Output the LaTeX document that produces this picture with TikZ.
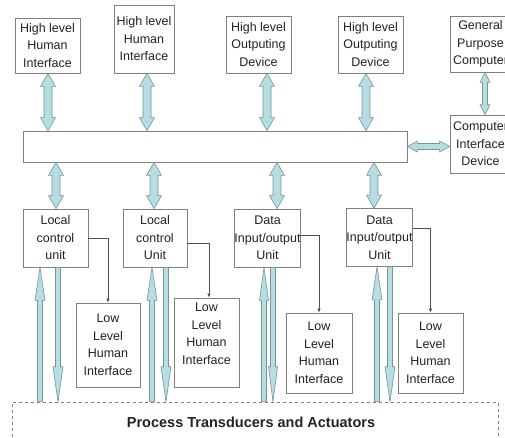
\documentclass[tikz,border=0pt]{standalone}
\usepackage{fontspec}
\setmainfont{Liberation Sans}
\usetikzlibrary{calc,arrows.meta}
\definecolor{boxline}{RGB}{128,128,128}
\definecolor{fatfill}{RGB}{182,221,225}
\definecolor{fatline}{RGB}{118,148,153}
\definecolor{txt}{RGB}{35,35,35}
\tikzset{
  unitbox/.style={draw=boxline, line width=0.8pt, fill=white, align=center, text=txt,
    font=\fontsize{12.5}{17.5}\selectfont, inner sep=0pt},
  fatstyle/.style={draw=fatline, fill=fatfill, line width=0.6pt, line join=miter},
  thinlink/.style={draw=txt!80, line width=0.6pt, -{Latex[length=4pt,width=3.5pt]}},
}
% double-headed fat arrow: A, B, shaft half width, head half width, head length
\newcommand\dblfat[5]{%
  \path (#1) coordinate (fA) (#2) coordinate (fB)
    ($(fA)!#5!(fB)$) coordinate (fA1) ($(fB)!#5!(fA)$) coordinate (fB1);
  \draw[fatstyle] (fA) -- ($(fA1)!#4!90:(fB)$) -- ($(fA1)!#3!90:(fB)$)
    -- ($(fB1)!#3!-90:(fA)$) -- ($(fB1)!#4!-90:(fA)$) -- (fB)
    -- ($(fB1)!#4!90:(fA)$) -- ($(fB1)!#3!90:(fA)$)
    -- ($(fA1)!#3!-90:(fB)$) -- ($(fA1)!#4!-90:(fB)$) -- cycle;}
% single-headed fat arrow: tail A, tip B
\newcommand\sglfat[5]{%
  \path (#1) coordinate (fA) (#2) coordinate (fB) ($(fB)!#5!(fA)$) coordinate (fB1);
  \draw[fatstyle] ($(fA)!#3!90:(fB)$) -- ($(fB1)!#3!-90:(fA)$) -- ($(fB1)!#4!-90:(fA)$)
    -- (fB) -- ($(fB1)!#4!90:(fA)$) -- ($(fB1)!#3!90:(fA)$) -- ($(fA)!#3!-90:(fB)$) -- cycle;}
\begin{document}
\begin{tikzpicture}[x=1pt,y=-1pt]
\useasboundingbox (0,0) rectangle (505,437);
\clip (0,0) rectangle (505,437);
\fill[white] (0,0) rectangle (505,437);
% top row
\node[unitbox, minimum width=65pt, minimum height=55pt] (hh1) at (47.5,45.5) {High level\\Human\\Interface};
\node[unitbox, minimum width=60pt, minimum height=68pt] (hh2) at (144,39) {High level\\Human\\Interface};
\node[unitbox, minimum width=65pt, minimum height=57pt] (ho1) at (258.5,44.5) {High level\\Outputing\\Device};
\node[unitbox, minimum width=65pt, minimum height=57pt] (ho2) at (370.5,44.5) {High level\\Outputing\\Device};
\node[unitbox, minimum width=61pt, minimum height=56pt] (gpc) at (480.5,44) {General\\Purpose\\Computer};
% bus and computer interface
\node[unitbox, minimum width=384pt, minimum height=31pt] (bus) at (215,146.5) {};
\node[unitbox, minimum width=61pt, minimum height=58pt] (cid) at (480.5,144) {Computer\\Interface\\Device};
% local units
\node[unitbox, minimum width=65pt, minimum height=58pt] (lcu1) at (55.5,238) {Local\\control\\unit};
\node[unitbox, minimum width=64pt, minimum height=58pt] (lcu2) at (155,238) {Local\\control\\Unit};
\node[unitbox, minimum width=65pt, minimum height=58pt] (dio1) at (267.5,238) {Data\\Input/output\\Unit};
\node[unitbox, minimum width=65pt, minimum height=58pt] (dio2) at (379.5,237.5) {Data\\Input/output\\Unit};
% low level
\node[unitbox, minimum width=64pt, minimum height=84pt] (ll1) at (108,345) {Low\\Level\\Human\\Interface};
\node[unitbox, minimum width=65pt, minimum height=89pt, text depth=18pt] (ll2) at (206.5,342.5) {Low\\Level\\Human\\Interface};
\node[unitbox, minimum width=66pt, minimum height=80pt] (ll3) at (319,353) {Low\\Level\\Human\\Interface};
\node[unitbox, minimum width=65pt, minimum height=80pt] (ll4) at (430.5,353) {Low\\Level\\Human\\Interface};
% process
\node[draw=boxline, dashed, line width=0.6pt, minimum width=486pt, minimum height=40pt,
  font=\fontsize{14.5}{16}\selectfont\bfseries, text=txt] (proc) at (255,422) {Process Transducers and Actuators\hspace*{8pt}};
% fat arrows top
\dblfat{48,0 |- hh1.south}{48,0 |- bus.north}{4pt}{7.5pt}{13pt}
\dblfat{147,0 |- hh2.south}{147,0 |- bus.north}{4pt}{7.5pt}{13pt}
\dblfat{267,0 |- ho1.south}{267,0 |- bus.north}{4pt}{7.5pt}{13pt}
\dblfat{366,0 |- ho2.south}{366,0 |- bus.north}{4pt}{7.5pt}{13pt}
% bus to local units
\dblfat{56,0 |- bus.south}{56,0 |- lcu1.north}{4pt}{7.5pt}{13pt}
\dblfat{154,0 |- bus.south}{154,0 |- lcu2.north}{4pt}{7.5pt}{13pt}
\dblfat{277,0 |- bus.south}{277,0 |- dio1.north}{4pt}{7.5pt}{13pt}
\dblfat{374,0 |- bus.south}{374,0 |- dio2.north}{4pt}{7.5pt}{13pt}
% computer side
\dblfat{bus.east}{bus.east -| cid.west}{3pt}{5.5pt}{10pt}
\dblfat{485,0 |- gpc.south}{485,0 |- cid.north}{2.5pt}{5pt}{10pt}
% process arrows
\sglfat{40,0 |- proc.north}{40,0 |- lcu1.south}{2.5pt}{5pt}{33pt}
\sglfat{58,0 |- lcu1.south}{58,0 |- proc.north}{2.5pt}{5pt}{35pt}
\sglfat{152,0 |- proc.north}{152,0 |- lcu2.south}{2.5pt}{5pt}{33pt}
\sglfat{166,0 |- lcu2.south}{166,0 |- proc.north}{2.5pt}{5pt}{35pt}
\sglfat{264,0 |- proc.north}{264,0 |- dio1.south}{2.5pt}{4.5pt}{33pt}
\sglfat{273,0 |- dio1.south}{273,0 |- proc.north}{2.5pt}{4.5pt}{35pt}
\sglfat{377,0 |- proc.north}{377,0 |- dio2.south}{2.5pt}{5pt}{33pt}
\sglfat{390,0 |- dio2.south}{390,0 |- proc.north}{2.5pt}{5pt}{35pt}
% thin links
\draw[thinlink] (lcu1.east) -| (ll1.north);
\draw[thinlink] ($(lcu2.east)+(0,5)$) -| ($(ll2.north)+(2.5,0)$);
\draw[thinlink] ($(dio1.east)+(0,-3)$) -| (ll3.north);
\draw[thinlink] ($(dio2.east)+(0,-9.5)$) -| (ll4.north);
\end{tikzpicture}
\end{document}
